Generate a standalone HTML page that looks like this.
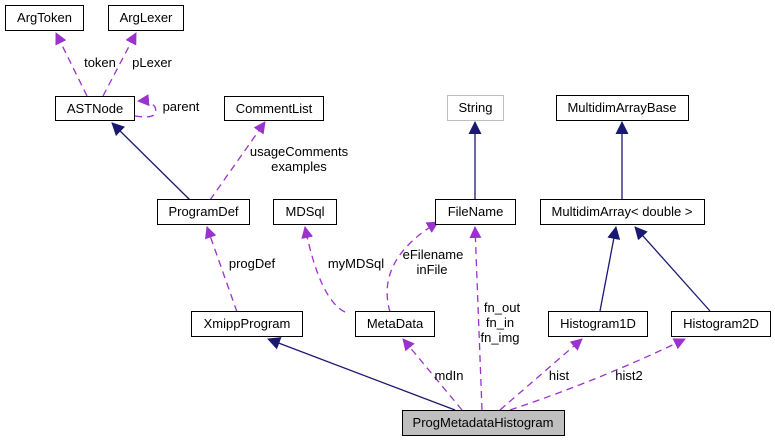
<!DOCTYPE html>
<html><head><style>body{margin:0;background:#fff}svg{display:block}text{font-family:"Liberation Sans",sans-serif;font-size:13px}</style></head><body>
<svg width="775" height="441" viewBox="0 0 775 441">
<defs>
<marker id="p" markerWidth="12" markerHeight="12" refX="11" refY="6" orient="auto" markerUnits="userSpaceOnUse"><path d="M0,0 L12,6 L0,12z" fill="#9a32cd"/></marker>
<marker id="b" markerWidth="13" markerHeight="13" refX="12" refY="6.5" orient="auto" markerUnits="userSpaceOnUse"><path d="M0,0 L13,6.5 L0,13z" fill="#191970"/></marker>
</defs>
<g fill="none" stroke-width="1.3">
<g stroke="#9a32cd" stroke-dasharray="7,5" marker-end="url(#p)">
<path d="M87,96 L56,33"/>
<path d="M103,96 L136,33"/>
<path d="M135,116 Q160,120 155,107 Q150,100 138,101"/>
<path d="M210,200 L265,122"/>
<path d="M237,312 L207,227"/>
<path d="M345,312 Q320,300 305,227"/>
<path d="M390,312 Q375,260 438,222"/>
<path d="M482,410 L475,227"/>
<path d="M462,410 L403,339"/>
<path d="M500,410 L582,339"/>
<path d="M510,410 Q600,380 685,339"/>
</g>
<g stroke="#191970" marker-end="url(#b)">
<path d="M190,200 L112,123"/>
<path d="M475,199 L475,122"/>
<path d="M622,199 L622,122"/>
<path d="M600,311 L616,227"/>
<path d="M710,311 L635,227"/>
<path d="M455,410 L268,339"/>
</g>
</g>
<g stroke="#000" stroke-width="1" fill="#fff">
<rect x="5.5" y="5.5" width="78" height="25"/>
<rect x="108.5" y="5.5" width="75" height="25"/>
<rect x="55.5" y="96.5" width="79" height="24"/>
<rect x="224.5" y="96.5" width="99" height="24"/>
<rect x="447.5" y="95.5" width="56" height="25" stroke="#bfbfbf"/>
<rect x="556.5" y="95.5" width="132" height="25"/>
<rect x="157.5" y="199.5" width="92" height="25"/>
<rect x="273.5" y="199.5" width="63" height="25"/>
<rect x="435.5" y="199.5" width="80" height="25"/>
<rect x="540.5" y="199.5" width="164" height="25"/>
<rect x="191.5" y="311.5" width="111" height="25"/>
<rect x="355.5" y="311.5" width="79" height="25"/>
<rect x="548.5" y="311.5" width="99" height="25"/>
<rect x="671.5" y="311.5" width="99" height="25"/>
<rect x="402.5" y="410.5" width="162" height="25" fill="#bfbfbf"/>
</g>
<g text-anchor="middle" fill="#000">
<text x="44.5" y="22">ArgToken</text>
<text x="146" y="22">ArgLexer</text>
<text x="95" y="113">ASTNode</text>
<text x="274" y="113">CommentList</text>
<text x="475.5" y="112">String</text>
<text x="622" y="112">MultidimArrayBase</text>
<text x="203.5" y="216">ProgramDef</text>
<text x="305" y="216">MDSql</text>
<text x="475.5" y="216">FileName</text>
<text x="622" y="216">MultidimArray&lt; double &gt;</text>
<text x="247" y="328">XmippProgram</text>
<text x="395" y="328">MetaData</text>
<text x="598" y="328">Histogram1D</text>
<text x="721" y="328">Histogram2D</text>
<text x="483" y="427">ProgMetadataHistogram</text>
<text x="100" y="67">token</text>
<text x="152" y="67">pLexer</text>
<text x="181" y="111">parent</text>
<text x="299" y="156">usageComments</text>
<text x="299" y="171">examples</text>
<text x="252" y="268">progDef</text>
<text x="356" y="268">myMDSql</text>
<text x="433" y="259">eFilename</text>
<text x="432" y="274">inFile</text>
<text x="502" y="312">fn_out</text>
<text x="500" y="327">fn_in</text>
<text x="500" y="342">fn_img</text>
<text x="449" y="380">mdIn</text>
<text x="559" y="380">hist</text>
<text x="629" y="380">hist2</text>
</g>
</svg>
</body></html>
